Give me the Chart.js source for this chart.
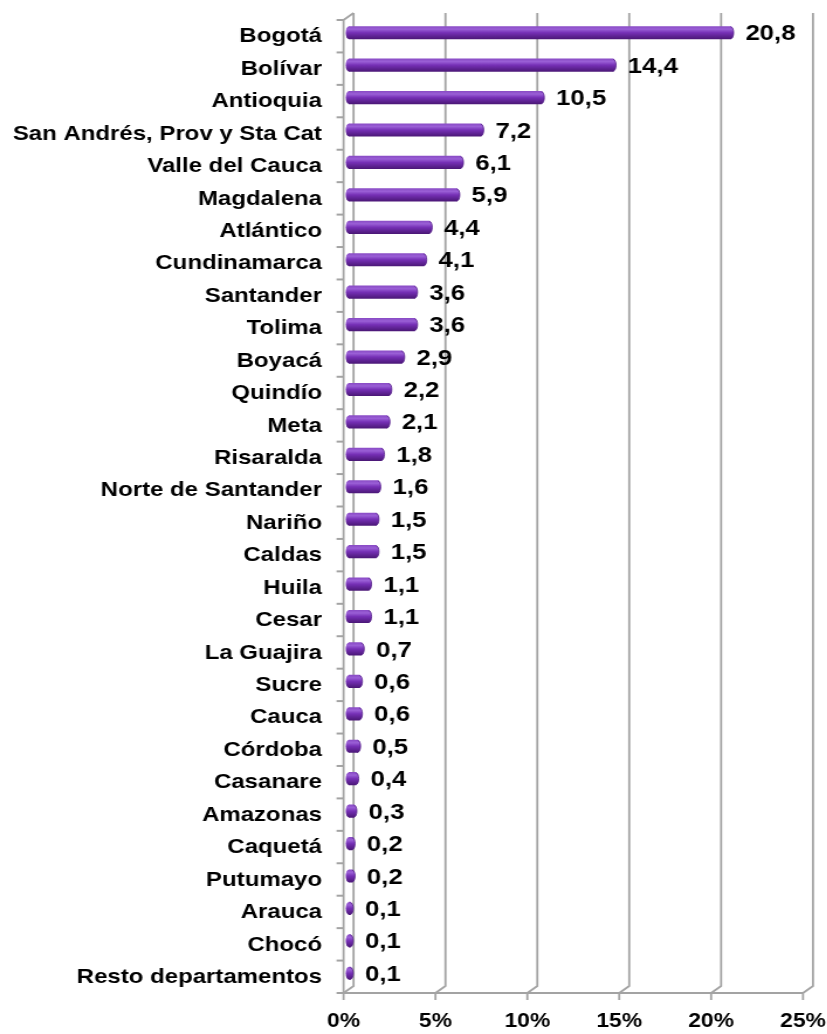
<!DOCTYPE html>
<html>
<head>
<meta charset="utf-8">
<script src="https://cdn.jsdelivr.net/npm/chart.js@4.4.1/dist/chart.umd.min.js"></script>
<style>
  html, body { margin: 0; padding: 0; background: #fff; overflow: hidden; }
  #wrap { width: 707px; height: 1034px; transform: scaleX(1.17); transform-origin: 0 0; }
  canvas { display: block; }
</style>
</head>
<body>
<div id="wrap"><canvas id="c" width="707" height="1034"></canvas></div>
<script>
const categories = [
  "Bogotá", "Bolívar", "Antioquia", "San Andrés, Prov y Sta Cat", "Valle del Cauca",
  "Magdalena", "Atlántico", "Cundinamarca", "Santander", "Tolima",
  "Boyacá", "Quindío", "Meta", "Risaralda", "Norte de Santander",
  "Nariño", "Caldas", "Huila", "Cesar", "La Guajira",
  "Sucre", "Cauca", "Córdoba", "Casanare", "Amazonas",
  "Caquetá", "Putumayo", "Arauca", "Chocó", "Resto departamentos"
];
const values = [
  20.8, 14.4, 10.5, 7.2, 6.1,
  5.9, 4.4, 4.1, 3.6, 3.6,
  2.9, 2.2, 2.1, 1.8, 1.6,
  1.5, 1.5, 1.1, 1.1, 0.7,
  0.6, 0.6, 0.5, 0.4, 0.3,
  0.2, 0.2, 0.1, 0.1, 0.1
];
const xTicks = [0, 5, 10, 15, 20, 25];
const xTickLabels = ["0%", "5%", "10%", "15%", "20%", "25%"];

const FONT = { family: "'Liberation Sans', Arial, sans-serif", size: 20.5, weight: "bold" };
const TICKFONT = { family: "'Liberation Sans', Arial, sans-serif", size: 19.5, weight: "bold" };
const VALFONT = "bold 22px 'Liberation Sans', Arial, sans-serif";
const DX = 4.27, DY = 3.5; // 3D depth offset (half)
const GRID = "#a3a3a3";

function barGradient(ctx, y, h) {
  const g = ctx.createLinearGradient(0, y - h / 2, 0, y + h / 2);
  g.addColorStop(0, "#8a4cc6");
  g.addColorStop(0.22, "#9a5fd6");
  g.addColorStop(0.5, "#7630b6");
  g.addColorStop(1, "#4c1878");
  return g;
}

function zeroPad(s) { s.paddingTop = 0; s.paddingBottom = 0; s.paddingLeft = 0; s.paddingRight = 0; }

const frame3d = {
  id: "frame3d",
  beforeDatasetsDraw(chart) {
    const { ctx, chartArea: a, scales: { x, y } } = chart;
    ctx.save();
    ctx.strokeStyle = GRID;
    ctx.lineWidth = 1.8;
    xTicks.forEach(v => {
      const xm = x.getPixelForValue(v);
      ctx.beginPath();
      ctx.moveTo(xm + DX, a.top - DY);
      ctx.lineTo(xm + DX, a.bottom - DY);
      ctx.lineTo(xm - DX, a.bottom + DY);
      ctx.lineTo(xm - DX, a.bottom + DY + 7);
      ctx.stroke();
    });
    ctx.lineWidth = 2;
    ctx.beginPath();
    ctx.moveTo(x.getPixelForValue(xTicks[0]) - DX, a.bottom + DY);
    ctx.lineTo(x.getPixelForValue(xTicks[xTicks.length - 1]) - DX, a.bottom + DY);
    ctx.stroke();
    const xf0 = x.getPixelForValue(0) - DX;
    ctx.lineWidth = 1.8;
    ctx.beginPath();
    ctx.moveTo(x.getPixelForValue(0) + DX, a.top - DY);
    ctx.lineTo(xf0, a.top + DY);
    ctx.lineTo(xf0, a.bottom + DY);
    ctx.stroke();
    ctx.lineWidth = 2;
    const n = categories.length;
    const band = (y.getPixelForValue(n - 1) - y.getPixelForValue(0)) / (n - 1);
    for (let i = 0; i <= n; i++) {
      const yy = y.getPixelForValue(0) - band / 2 + i * band + DY;
      ctx.beginPath();
      ctx.moveTo(xf0 - 6, yy);
      ctx.lineTo(xf0, yy);
      ctx.stroke();
    }
    ctx.restore();
  },
  afterDatasetsDraw(chart) {
    const { ctx } = chart;
    const meta = chart.getDatasetMeta(0);
    ctx.save();
    meta.data.forEach((el, i) => {
      const h = el.height;
      const rx = 2.4;
      ctx.fillStyle = barGradient(ctx, el.y, h);
      ctx.beginPath();
      ctx.ellipse(el.base, el.y, rx, h / 2, 0, 0, Math.PI * 2);
      ctx.fill();
      ctx.beginPath();
      ctx.ellipse(el.x, el.y, rx, h / 2, 0, 0, Math.PI * 2);
      ctx.fill();
      ctx.strokeStyle = "#55208a";
      ctx.lineWidth = 0.8;
      ctx.beginPath();
      ctx.ellipse(el.x, el.y, rx, h / 2 - 0.4, 0, -Math.PI / 2, Math.PI / 2);
      ctx.stroke();
      ctx.fillStyle = "#000";
      ctx.font = VALFONT;
      ctx.textAlign = "left";
      ctx.textBaseline = "middle";
      const txt = values[i].toFixed(1).replace(".", ",");
      ctx.fillText(txt, el.x + 12.5, el.y + 1.5);
    });
    ctx.restore();
  }
};

new Chart(document.getElementById("c"), {
  type: "bar",
  data: {
    labels: categories,
    datasets: [{
      data: values,
      barThickness: 12.5,
      borderWidth: 0,
      backgroundColor: (ctx) => {
        const chart = ctx.chart;
        if (!chart.chartArea || ctx.dataIndex === undefined) return "#7030a0";
        const yy = chart.scales.y.getPixelForValue(ctx.dataIndex);
        return barGradient(chart.ctx, yy, 12.5);
      }
    }]
  },
  options: {
    indexAxis: "y",
    responsive: false,
    animation: false,
    devicePixelRatio: 1,
    layout: { padding: { top: 16.5, right: 16.4, left: 0, bottom: 0 } },
    plugins: { legend: { display: false }, tooltip: { enabled: false } },
    scales: {
      x: {
        type: "linear",
        min: 0, max: 25,
        afterBuildTicks: (s) => { s.ticks = xTicks.map(v => ({ value: v })); },
        ticks: {
          callback: (v) => xTickLabels[xTicks.indexOf(v)],
          font: TICKFONT, color: "#000", labelOffset: -DX, padding: 20.5, maxRotation: 0, autoSkip: false
        },
        grid: { display: false, drawTicks: false },
        border: { display: false },
        afterFit: (s) => { s.height = 44.5; zeroPad(s); }
      },
      y: {
        ticks: { font: FONT, color: "#000", padding: 22.7, labelOffset: 4, autoSkip: false },
        grid: { display: false, drawTicks: false },
        border: { display: false },
        afterFit: (s) => { s.width = 297.9; zeroPad(s); }
      }
    }
  },
  plugins: [frame3d]
});
</script>
</body>
</html>
